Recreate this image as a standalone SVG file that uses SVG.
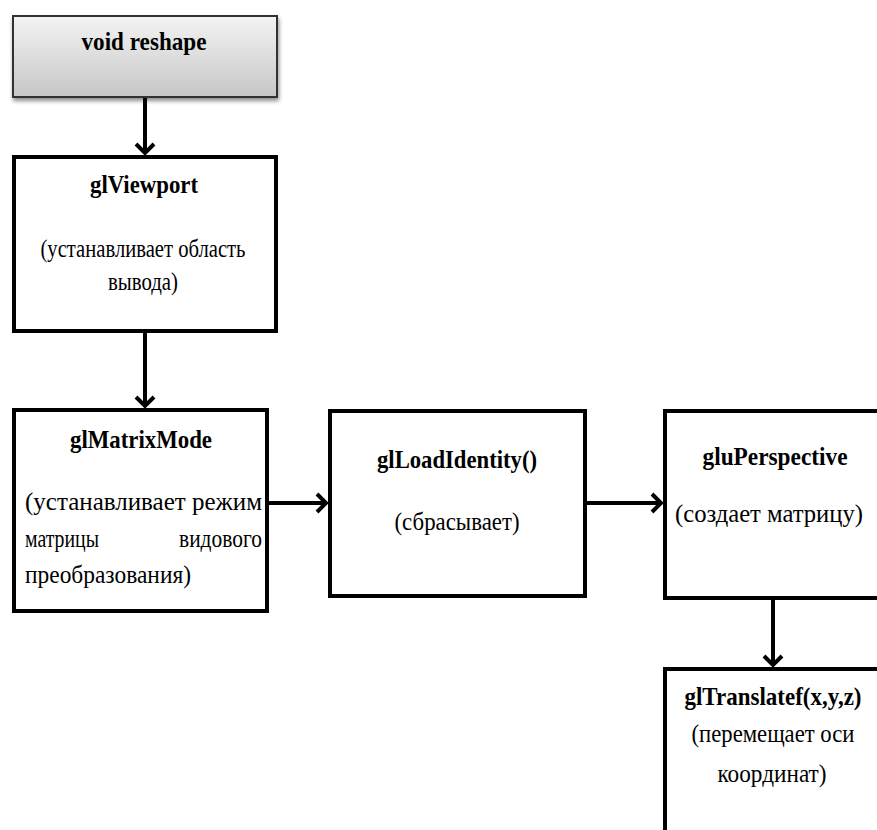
<svg xmlns="http://www.w3.org/2000/svg" width="877" height="830" viewBox="0 0 877 830">
<defs>
<linearGradient id="g1" x1="0" y1="0" x2="0" y2="1">
<stop offset="0" stop-color="#f4f4f4"/>
<stop offset="1" stop-color="#c6c6c6"/>
</linearGradient>
<filter id="sh" x="-10%" y="-10%" width="130%" height="140%">
<feGaussianBlur in="SourceAlpha" stdDeviation="2"/>
<feOffset dx="1" dy="3"/>
<feComponentTransfer><feFuncA type="linear" slope="0.45"/></feComponentTransfer>
<feMerge><feMergeNode/><feMergeNode in="SourceGraphic"/></feMerge>
</filter>
<marker id="ah" markerUnits="userSpaceOnUse" markerWidth="24" markerHeight="24" viewBox="-12 -12 24 24" refX="0" refY="0" orient="auto">
<path d="M-9,-9 L0,0 L-9,9" fill="none" stroke="#000" stroke-width="4" stroke-linejoin="miter"/>
</marker>
</defs>
<style>
.box{fill:#fff;stroke:#000;stroke-width:4}
.t{font-family:"Liberation Serif","Times New Roman",serif;font-size:25px;fill:#000}
.b{font-weight:bold}
.c{stroke:#000;stroke-width:4;fill:none}
</style>
<rect width="877" height="830" fill="#fff"/>
<g id="connectors">
<line class="c" x1="145" y1="98" x2="145" y2="153" marker-end="url(#ah)"/>
<line class="c" x1="145" y1="333" x2="145" y2="406" marker-end="url(#ah)"/>
<line class="c" x1="269" y1="503" x2="326" y2="503" marker-end="url(#ah)"/>
<line class="c" x1="587" y1="503" x2="661" y2="503" marker-end="url(#ah)"/>
<line class="c" x1="773" y1="600" x2="773" y2="665" marker-end="url(#ah)"/>
</g>
<g id="reshape">
<rect x="13" y="16" width="264" height="81" fill="url(#g1)" stroke="#333" stroke-width="2" filter="url(#sh)"/>
<text class="t b" x="144" y="50" text-anchor="middle" textLength="125" lengthAdjust="spacingAndGlyphs">void reshape</text>
</g>
<g id="glViewport">
<rect class="box" x="14" y="157" width="262" height="174"/>
<text class="t b" x="144" y="193" text-anchor="middle" textLength="108" lengthAdjust="spacingAndGlyphs">glViewport</text>
<text class="t" x="143" y="257" text-anchor="middle" textLength="205" lengthAdjust="spacingAndGlyphs">(устанавливает область</text>
<text class="t" x="143" y="290" text-anchor="middle" textLength="70" lengthAdjust="spacingAndGlyphs">вывода)</text>
</g>
<g id="glMatrixMode">
<rect class="box" x="14" y="410" width="253" height="201"/>
<text class="t b" x="141" y="448" text-anchor="middle" textLength="142" lengthAdjust="spacingAndGlyphs">glMatrixMode</text>
<text class="t" x="25" y="510" textLength="237" lengthAdjust="spacingAndGlyphs">(устанавливает режим</text>
<text class="t" x="25" y="547" textLength="74" lengthAdjust="spacingAndGlyphs">матрицы</text>
<text class="t" x="262" y="547" text-anchor="end" textLength="83" lengthAdjust="spacingAndGlyphs">видового</text>
<text class="t" x="25" y="583" textLength="166" lengthAdjust="spacingAndGlyphs">преобразования)</text>
</g>
<g id="glLoadIdentity">
<rect class="box" x="330" y="411" width="255" height="185"/>
<text class="t b" x="457" y="468" text-anchor="middle" textLength="160" lengthAdjust="spacingAndGlyphs">glLoadIdentity()</text>
<text class="t" x="457" y="530" text-anchor="middle" textLength="125" lengthAdjust="spacingAndGlyphs">(сбрасывает)</text>
</g>
<g id="gluPerspective">
<rect class="box" x="665" y="411" width="230" height="187"/>
<text class="t b" x="775" y="465" text-anchor="middle" textLength="145" lengthAdjust="spacingAndGlyphs">gluPerspective</text>
<text class="t" x="769" y="522" text-anchor="middle" textLength="188" lengthAdjust="spacingAndGlyphs">(создает матрицу)</text>
</g>
<g id="glTranslatef">
<rect class="box" x="665" y="669" width="230" height="200"/>
<text class="t b" x="773" y="705" text-anchor="middle" textLength="177" lengthAdjust="spacingAndGlyphs">glTranslatef(x,y,z)</text>
<text class="t" x="773" y="742" text-anchor="middle" textLength="163" lengthAdjust="spacingAndGlyphs">(перемещает оси</text>
<text class="t" x="772" y="782" text-anchor="middle" textLength="109" lengthAdjust="spacingAndGlyphs">координат)</text>
</g>
</svg>
